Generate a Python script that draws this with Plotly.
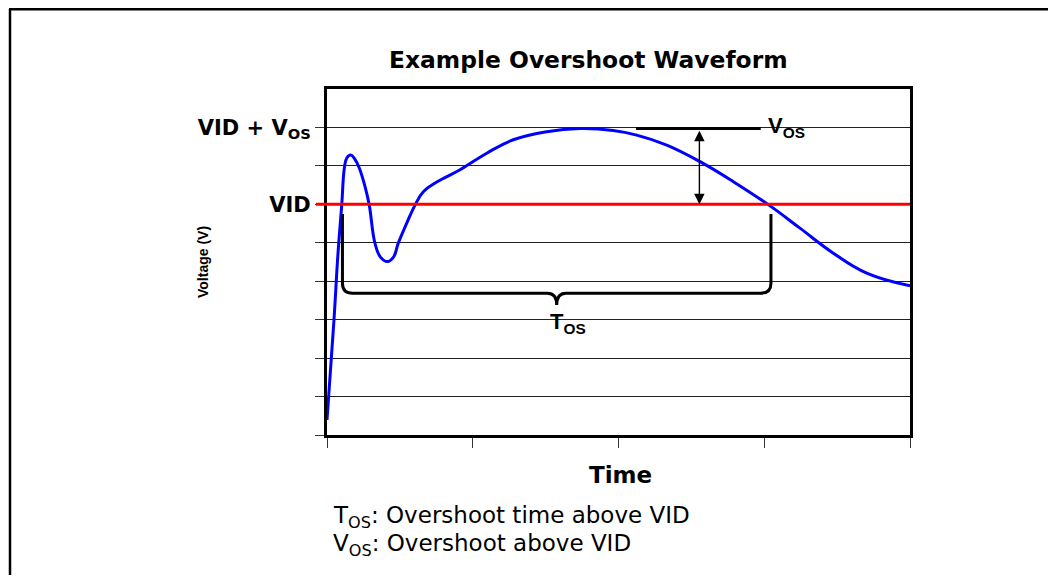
import plotly.graph_objects as go

# ---- data ----
time_vals = [0.000, 0.048, 0.075, 0.101, 0.119, 0.135, 0.163, 0.192, 0.222, 0.261,
             0.290, 0.329, 0.368, 0.414, 0.455, 0.489, 0.547, 0.604, 0.661, 0.753,
             0.913, 1.096, 1.278, 1.507, 1.736, 1.964, 2.125, 2.331, 2.559, 2.788,
             3.040, 3.245, 3.474, 3.703, 4.000]
volt_vals = [0.39, 3.00, 4.70, 5.98, 6.94, 7.20, 7.28, 7.17, 6.94, 6.46,
             5.98, 4.99, 4.62, 4.51, 4.62, 4.99, 5.51, 5.98, 6.33, 6.58,
             6.90, 7.33, 7.68, 7.89, 7.97, 7.92, 7.80, 7.54, 7.11, 6.59,
             5.96, 5.38, 4.73, 4.21, 3.88]

vid_level = 6.0
vos_level = 8.0
y_ticks = [0, 1, 2, 3, 4, 5, 6, 7, 8]
y_ticktext = ["", "", "", "", "", "", "<b>VID</b>", "", "<b>VID + V<sub>OS</sub></b>"]
x_ticks = [0, 1, 2, 3, 4]

tos_start = 0.106
tos_end = 3.046
vos_line_x = [2.12, 2.976]
vos_arrow_x = 2.555

# page body has an 8px margin; figure sized so the page fits the window
OFF = 8
W, H = 1040, 567
# plot area in window pixels
PL, PR, PT, PB = 327, 910, 89, 435
L, T = PL - OFF, PT - OFF
R = (OFF + W) - PR
B = (OFF + H) - PB
pw, ph = PR - PL, PB - PT


def px(xp):
    return (xp - PL) / pw


def py(yp):
    return (PB - yp) / ph


fig = go.Figure()

fig.add_trace(go.Scatter(
    x=time_vals, y=volt_vals, mode="lines",
    line=dict(color="#0000ff", width=3, shape="spline", smoothing=1.2),
    hoverinfo="skip", showlegend=False))

shapes = []
# VID red line (extends slightly left of the axis like a tick)
shapes.append(dict(type="line", xref="paper", yref="y", x0=px(316), x1=1.0,
                   y0=vid_level, y1=vid_level, line=dict(color="#ff0000", width=3)))
# Vos horizontal bar
shapes.append(dict(type="line", xref="x", yref="y", x0=vos_line_x[0], x1=vos_line_x[1],
                   y0=vos_level - 0.03, y1=vos_level - 0.03, line=dict(color="black", width=3)))
# Tos brace
top = 5.75
by = 3.69
ny = 3.38
rx, ry = 0.07, 0.26
cx = (tos_start + tos_end) / 2
dx = 0.064
path = (f"M {tos_start},{top} L {tos_start},{by+ry} Q {tos_start},{by} {tos_start+rx},{by} "
        f"L {cx-dx},{by} Q {cx},{by} {cx},{ny} Q {cx},{by} {cx+dx},{by} "
        f"L {tos_end-rx},{by} Q {tos_end},{by} {tos_end},{by+ry} L {tos_end},{top}")
shapes.append(dict(type="path", xref="x", yref="y", path=path,
                   line=dict(color="black", width=3)))
# outer frame: left and top edges
shapes.append(dict(type="line", xref="paper", yref="paper",
                   x0=px(10), x1=px(10), y0=py(9), y1=py(640),
                   line=dict(color="black", width=2.5)))
shapes.append(dict(type="line", xref="paper", yref="paper",
                   x0=px(9), x1=px(1100), y0=py(9.3), y1=py(9.3),
                   line=dict(color="black", width=2.5)))

annotations = []
# double arrow for Vos
annotations.append(dict(x=vos_arrow_x, y=vid_level, ax=vos_arrow_x, ay=vos_level - 0.05,
                        xref="x", yref="y", axref="x", ayref="y", text="",
                        showarrow=True, arrowhead=2, arrowside="end+start",
                        arrowsize=1.5, arrowwidth=1.4, arrowcolor="black",
                        standoff=0, startstandoff=0))
annotations.append(dict(x=3.012, y=8.02, xref="x", yref="y", xanchor="left", yanchor="middle",
                        text="<b>V<sub>OS</sub></b>", showarrow=False,
                        font=dict(family="Liberation Sans", size=22, color="black")))
annotations.append(dict(x=1.515, y=2.92, xref="x", yref="y", xanchor="left", yanchor="middle",
                        text="<b>T<sub>OS</sub></b>", showarrow=False,
                        font=dict(family="Liberation Sans", size=22, color="black")))
# title
annotations.append(dict(x=px(588), y=py(60), xref="paper", yref="paper", xanchor="center",
                        yanchor="middle", text="<b>Example Overshoot Waveform</b>", showarrow=False,
                        font=dict(family="DejaVu Sans", size=23.4, color="black")))
# axis titles
annotations.append(dict(x=px(620), y=py(475), xref="paper", yref="paper", xanchor="center",
                        yanchor="middle", text="<b>Time</b>", showarrow=False,
                        font=dict(family="DejaVu Sans", size=23, color="black")))
annotations.append(dict(x=px(203), y=py(262), xref="paper", yref="paper", xanchor="center",
                        yanchor="middle", text="<b>Voltage (V)</b>", showarrow=False, textangle=-90,
                        font=dict(family="Liberation Sans", size=14, color="black")))
# notes
annotations.append(dict(x=px(331), y=py(517), xref="paper", yref="paper", xanchor="left",
                        yanchor="middle", text="T<sub>OS</sub>: Overshoot time above VID",
                        showarrow=False,
                        font=dict(family="DejaVu Sans", size=23, color="black")))
annotations.append(dict(x=px(331), y=py(545), xref="paper", yref="paper", xanchor="left",
                        yanchor="middle", text="V<sub>OS</sub>: Overshoot above VID",
                        showarrow=False,
                        font=dict(family="DejaVu Sans", size=23, color="black")))

fig.update_layout(
    width=W, height=H, autosize=False,
    margin=dict(l=L, r=R, t=T, b=B, pad=0),
    paper_bgcolor="white", plot_bgcolor="white",
    shapes=shapes, annotations=annotations,
    xaxis=dict(range=[0, 4], tickvals=x_ticks, showticklabels=False, ticks="outside",
               ticklen=10, tickwidth=1, tickcolor="#333", showgrid=False, zeroline=False,
               showline=True, linecolor="black", linewidth=3, mirror=True, fixedrange=True),
    yaxis=dict(range=[0, 9], tickvals=y_ticks, ticktext=y_ticktext, ticks="outside",
               ticklen=9, tickwidth=1, tickcolor="#333", showgrid=True, gridcolor="#222",
               gridwidth=1, zeroline=False, showline=True, linecolor="black", linewidth=3,
               mirror=True, fixedrange=True,
               tickfont=dict(family="DejaVu Sans", size=21, color="black")),
)

fig.write_html("out.html")
